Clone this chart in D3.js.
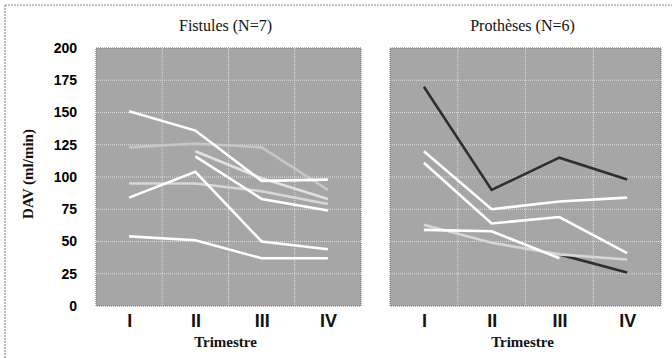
<!DOCTYPE html>
<html><head><meta charset="utf-8">
<script src="https://cdn.jsdelivr.net/npm/d3@7"></script>
<style>body{margin:0;background:#fff}svg{display:block}</style>
</head><body>
<svg id="c" width="672" height="358"></svg>
<script>
const categories = ["I", "II", "III", "IV"];
const yTicks = [0, 25, 50, 75, 100, 125, 150, 175, 200];
const panelTitles = ["Fistules (N=7)", "Prothèses (N=6)"];
const xTitle = "Trimestre";
const yTitle = "DAV (ml/min)";

// Fistules series (null = no value)
const fistA = [151, 136, 97, 98];
const fistB = [123, 126, 123, 90];
const fistC = [null, 120, 99, 83];
const fistD = [null, 116, 83, 74];
const fistE = [84, 104, 50, 44];
const fistF = [95, 95, 89, 79];
const fistG = [54, 51, 37, 37];

// Prothèses series
const protH = [170, 90, 115, 98];
const protI = [120, 75, 81, 84];
const protJ = [111, 64, 69, 41];
const protK = [59, 58, 37, null];
const protL = [63, 49, 40, 36];
const protM = [null, null, 40, 26];

const fistSeries = [
  {v: fistB, c: "#c6c6c6"},
  {v: fistF, c: "#d8d8d8"},
  {v: fistC, c: "#e0e0e0"},
  {v: fistA, c: "#ffffff"},
  {v: fistD, c: "#ffffff"},
  {v: fistE, c: "#ffffff"},
  {v: fistG, c: "#ffffff"}
];
const protSeries = [
  {v: protM, c: "#2e2e2e"},
  {v: protL, c: "#d6d6d6"},
  {v: protK, c: "#ffffff"},
  {v: protJ, c: "#ffffff"},
  {v: protI, c: "#ffffff"},
  {v: protH, c: "#2e2e2e"}
];

const svg = d3.select("#c");
// outer frame
svg.append("line").attr("x1",5).attr("x2",672).attr("y1",5).attr("y2",5).attr("stroke","#8a8a8a").attr("stroke-width",1.2).attr("stroke-dasharray","2,1");
svg.append("line").attr("x1",5).attr("x2",5).attr("y1",5).attr("y2",358).attr("stroke","#8a8a8a").attr("stroke-width",1.2).attr("stroke-dasharray","2,1");

const y = d3.scaleLinear().domain([0, 200]).range([306, 48]);

const panels = [
  {x0: 96, x1: 361, series: fistSeries, title: panelTitles[0], showY: true},
  {x0: 390, x1: 661, series: protSeries, title: panelTitles[1], showY: false}
];

panels.forEach(p => {
  const x = d3.scalePoint().domain(categories).range([p.x0, p.x1]).padding(0.5);
  const g = svg.append("g");
  g.append("rect").attr("x", p.x0).attr("y", y(200)).attr("width", p.x1 - p.x0).attr("height", y(0) - y(200))
    .attr("fill", "#a6a6a6").attr("stroke", "#6f6f6f").attr("stroke-width", 1).attr("stroke-dasharray", "1,1");
  // horizontal grid
  g.selectAll(".hg").data(yTicks.filter(t => t > 0 && t < 200)).enter().append("line")
    .attr("x1", p.x0).attr("x2", p.x1).attr("y1", d => y(d)).attr("y2", d => y(d))
    .attr("stroke", "#dedede").attr("stroke-width", 1).attr("stroke-dasharray", "1,1");
  // vertical grid at band boundaries
  const step = x.step();
  g.selectAll(".vg").data(categories.slice(1)).enter().append("line")
    .attr("x1", d => x(d) - step / 2).attr("x2", d => x(d) - step / 2)
    .attr("y1", y(200)).attr("y2", y(0))
    .attr("stroke", "#dedede").attr("stroke-width", 1).attr("stroke-dasharray", "1,1");
  const line = d3.line().defined(d => d.v != null).x(d => x(d.k)).y(d => y(d.v));
  p.series.forEach(s => {
    g.append("path").datum(categories.map((k, i) => ({k, v: s.v[i]})))
      .attr("d", line).attr("fill", "none").attr("stroke", s.c).attr("stroke-width", 2.6)
      .attr("stroke-linejoin", "miter");
  });
  // x axis labels
  const xa = d3.axisBottom(x).tickSize(0).tickPadding(0);
  const xg = g.append("g").attr("transform", "translate(0,314)").call(xa);
  xg.select(".domain").remove();
  xg.selectAll("text").attr("font-family", "Liberation Sans, Arial, sans-serif").attr("font-weight", "bold")
    .attr("font-size", 18).attr("fill", "#111").attr("dy", "0.71em");
  // x title
  g.append("text").attr("x", (p.x0 + p.x1) / 2 - 3).attr("y", 347).attr("text-anchor", "middle")
    .attr("font-family", "Liberation Serif, Times New Roman, serif").attr("font-weight", "bold").attr("font-size", 15)
    .attr("fill", "#111").text(xTitle);
  // panel title
  g.append("text").attr("x", (p.x0 + p.x1) / 2 - 3).attr("y", 31).attr("text-anchor", "middle")
    .attr("font-family", "Liberation Serif, Times New Roman, serif").attr("font-size", 16)
    .attr("fill", "#111").text(p.title);
  if (p.showY) {
    const ya = d3.axisLeft(y).tickValues(yTicks).tickSize(0).tickPadding(0);
    const yg = g.append("g").attr("transform", "translate(77,0)").call(ya);
    yg.select(".domain").remove();
    yg.selectAll("text").attr("font-family", "Liberation Sans, Arial, sans-serif").attr("font-weight", "bold")
      .attr("font-size", 14).attr("fill", "#000");
  }
});

svg.append("text").attr("transform", "translate(33,174) rotate(-90)").attr("text-anchor", "middle")
  .attr("font-family", "Liberation Serif, Times New Roman, serif").attr("font-weight", "bold").attr("font-size", 15)
  .attr("fill", "#111").text(yTitle);
</script>
</body></html>
